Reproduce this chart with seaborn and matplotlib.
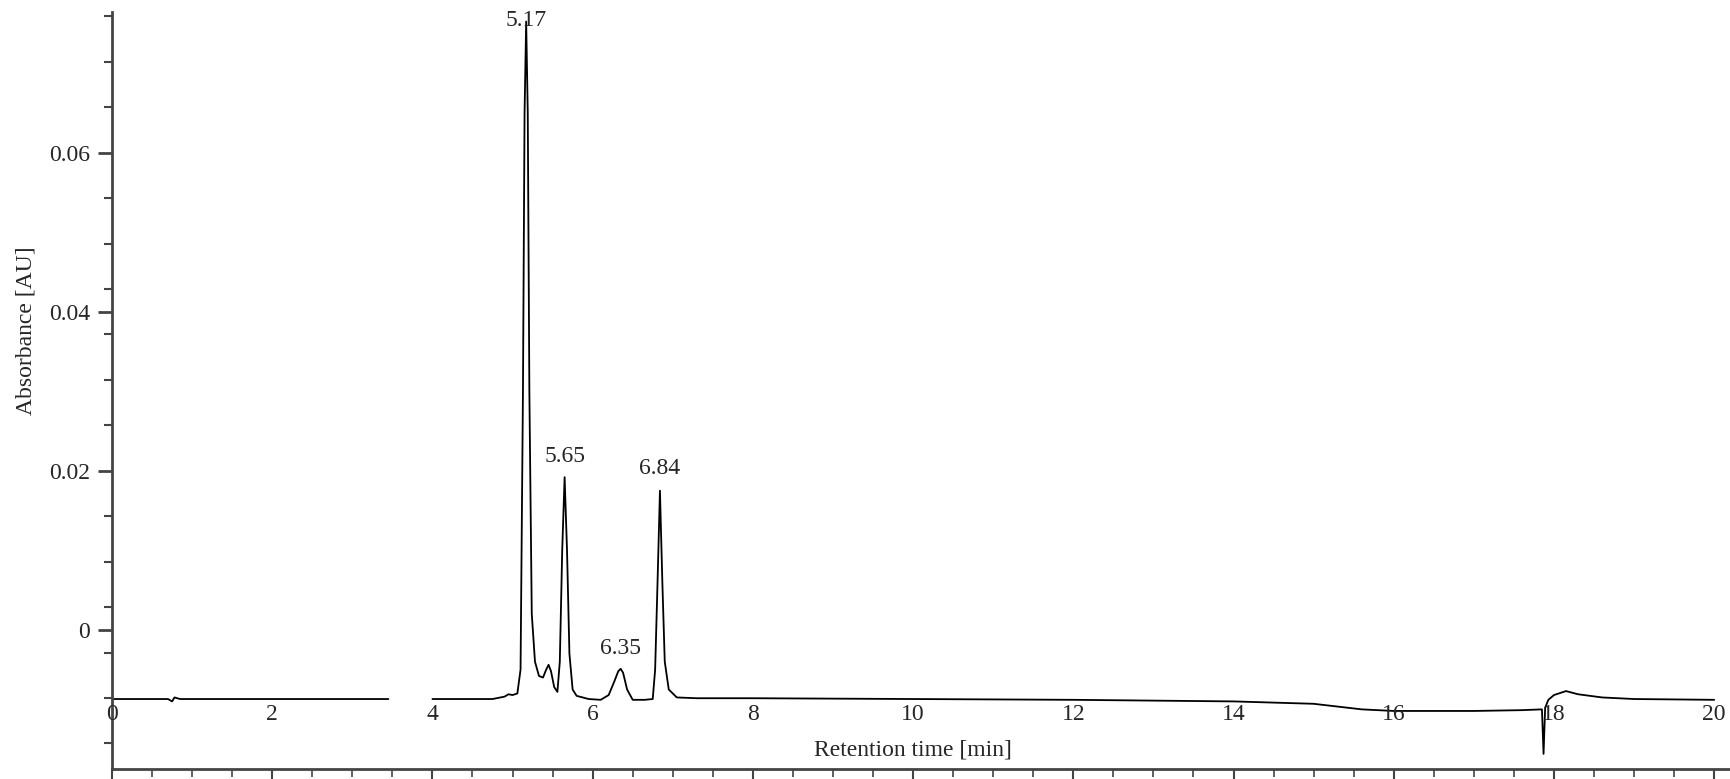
import numpy as np
import pandas as pd
import matplotlib
matplotlib.use("Agg")
import matplotlib.pyplot as plt
import seaborn as sns
from matplotlib.ticker import MultipleLocator, FixedLocator

sns.set_style("ticks")
plt.rcParams['font.family'] = ['Liberation Serif', 'DejaVu Serif']

# chromatogram trace keyframes (min, AU); NaN marks the gap in the recording
time = [0.0, 0.7, 0.75, 0.78, 0.85, 1.5, 2.5, 3.45, np.nan,
        4.0, 4.75, 4.9, 4.95, 5.0, 5.06, 5.1, 5.13, 5.15, 5.17, 5.19, 5.21, 5.24, 5.28, 5.33, 5.38, 5.42, 5.45, 5.48, 5.52, 5.56,
        5.59, 5.62, 5.65, 5.68, 5.71, 5.75, 5.8,
        5.95, 6.1, 6.2, 6.27, 6.32, 6.35, 6.38, 6.43, 6.5, 6.65, 6.75, 6.78, 6.81, 6.84, 6.87, 6.9, 6.95, 7.05, 7.3, 8.0,
        10.0, 12.0, 14.0, 15.0, 15.6, 16.0, 17.0, 17.6, 17.85, 17.87, 17.89, 17.93, 18.0, 18.15, 18.3, 18.6, 19.0, 20.0]
absorb = [-0.0087, -0.0087, -0.0090, -0.0085, -0.0087, -0.0087, -0.0087, -0.0087, np.nan,
          -0.0087, -0.0087, -0.0084, -0.0081, -0.0082, -0.0080, -0.0050, 0.030, 0.065, 0.0765, 0.065, 0.030, 0.002, -0.0040, -0.0058, -0.0060, -0.0050, -0.0044, -0.0052, -0.0072, -0.0078,
          -0.004, 0.010, 0.0192, 0.010, -0.003, -0.0075, -0.0083,
          -0.0087, -0.0088, -0.0082, -0.0065, -0.0052, -0.0049, -0.0054, -0.0075, -0.0088, -0.0088, -0.0087, -0.0050, 0.006, 0.0175, 0.006, -0.0040, -0.0075, -0.0085, -0.0086, -0.0086,
          -0.0087, -0.0088, -0.0090, -0.0093, -0.0100, -0.0102, -0.0102, -0.0101, -0.0100, -0.0156, -0.0098, -0.0088, -0.0082, -0.0077, -0.0081, -0.0085, -0.0087, -0.0088]

peak_times = [5.17, 5.65, 6.35, 6.84]
peak_labels = ["5.17", "5.65", "6.35", "6.84"]
peak_label_y = [0.0766, 0.0218, -0.0024, 0.0203]

x_ticks = [0, 2, 4, 6, 8, 10, 12, 14, 16, 18, 20]
y_ticks = [0.0, 0.02, 0.04, 0.06]
y_tick_labels = ["0", "0.02", "0.04", "0.06"]

df = pd.DataFrame({"t": time, "a": absorb})

fig = plt.figure(figsize=(17.31, 7.79), dpi=100)
ax = fig.add_axes([112/1731, 10/779, 1 - 112/1731, 1 - 22/779])

ax.plot(df["t"], df["a"], color="black", lw=1.3)

ax.set_xlim(0, 20.21)
ax.set_ylim(-0.0175, 0.0777)

for s in ["top", "right"]:
    ax.spines[s].set_visible(False)
for s in ["left", "bottom"]:
    ax.spines[s].set_linewidth(2)
    ax.spines[s].set_color("#444444")

FS = 17
ax.set_yticks(y_ticks)
ax.set_yticklabels(y_tick_labels, fontsize=FS)
ax.yaxis.set_minor_locator(FixedLocator([0.06 + k * 0.02 / 3.5 for k in range(-14, 4)]))
ax.tick_params(axis="y", which="major", length=10, width=2, color="#444444", pad=6)
ax.tick_params(axis="y", which="minor", length=6, width=1.5, color="#444444")

ax.set_xticks(x_ticks)
ax.set_xticklabels([])
ax.xaxis.set_minor_locator(MultipleLocator(0.5))
ax.tick_params(axis="x", which="major", length=10, width=1.5, color="#444444", direction="out")
ax.tick_params(axis="x", which="minor", length=6, width=1.2, color="#444444", direction="out")
for xt in x_ticks:
    ax.text(xt, -0.0107, str(xt), ha="center", va="center", fontsize=FS)

for t, lab, yy in zip(peak_times, peak_labels, peak_label_y):
    ax.text(t, yy, lab, ha="center", va="center", fontsize=FS)

ax.text(10.0, -0.0151, "Retention time [min]", ha="center", va="center", fontsize=FS)
fig.text(26/1731, 1 - 331/779, "Absorbance [AU]", rotation=90, ha="center", va="center", fontsize=FS)

fig.savefig("out.png", dpi=100)
